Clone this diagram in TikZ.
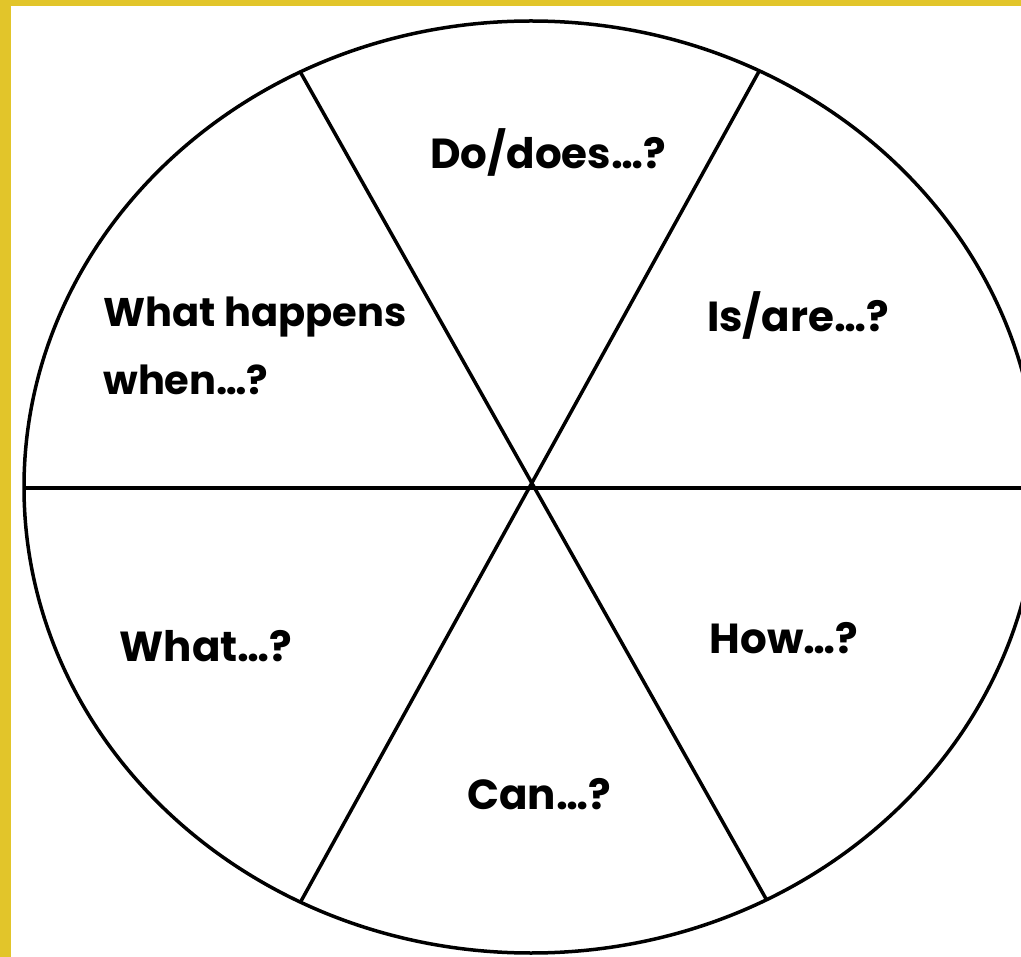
\documentclass[tikz,border=0pt]{standalone}
\usepackage{fontspec}
\setmainfont{Poppins}
\definecolor{frameyellow}{RGB}{226,197,42}
\begin{document}
\begin{tikzpicture}[x=1pt,y=-1pt,
  lbl/.style={font=\fontsize{42}{68}\selectfont\bfseries, inner sep=0pt, text=black},
  rim/.style={line width=3.5pt, draw=black}]
\useasboundingbox (0,0) rectangle (1021,957);
\clip (0,0) rectangle (1021,957);
\fill[white] (0,0) rectangle (1021,957);
\fill[frameyellow] (0,0) rectangle (11,957);
\fill[frameyellow] (0,0) rectangle (1021,6);
\coordinate (c) at (531,487);
\coordinate (hl) at (0,488);
\coordinate (hr) at (1100,488);
\coordinate (s1a) at (209.4,-89.4);
\coordinate (s1b) at (857.6,1061.4);
\coordinate (s2a) at (848.4,-90.6);
\coordinate (s2b) at (208.6,1068.6);
\begin{scope}
  \clip (c) ellipse [x radius=507, y radius=466];
  \draw[rim] (hl) -- (hr);
  \draw[rim] (s1a) -- (s1b);
  \draw[rim] (s2a) -- (s2b);
\end{scope}
\draw[rim] (c) ellipse [x radius=507, y radius=466];
\node[lbl] (dodoes) at (548,152) {Do/does…?};
\node[lbl] (isare) at (798,315) {Is/are…?};
\node[lbl, font=\fontsize{40}{68}\selectfont\bfseries, align=left] (whathappens) at (255,346) {What happens\\when…?};
\node[lbl] (what) at (206,646) {What…?};
\node[lbl] (how) at (784,638) {How…?};
\node[lbl] (can) at (539,794) {Can…?};
\end{tikzpicture}
\end{document}
